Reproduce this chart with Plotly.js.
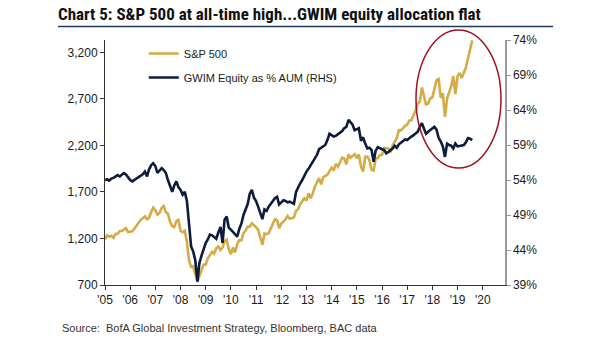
<!DOCTYPE html>
<html><head><meta charset="utf-8">
<script src="https://cdn.plot.ly/plotly-3.0.1.min.js"></script>
<style>html,body{margin:0;padding:0;background:#fff;} #chart{width:605px;height:341px;}</style>
</head><body><div id="chart"></div>
<script>
// Monthly observations, first month June 2005 (as placed on the chart's axis)
const firstYear = 2005, firstMonthIndex = 5;
const spx = [
 1191,1234,1220,1229,1207,1249,1248,
 1280,1281,1295,1311,1270,1270,1277,1304,1336,1378,1401,1418,
 1438,1407,1421,1482,1531,1503,1455,1474,1527,1549,1481,1468,
 1379,1331,1323,1386,1400,1280,1267,1283,1165,969,896,903,
 826,735,798,873,919,919,987,1021,1057,1036,1096,1115,
 1074,1104,1169,1187,1089,1031,1102,1049,1141,1183,1181,1258,
 1286,1327,1326,1364,1345,1321,1292,1219,1131,1253,1247,1258,
 1312,1366,1408,1398,1310,1362,1379,1407,1441,1412,1416,1426,
 1498,1515,1569,1598,1631,1606,1686,1633,1682,1757,1806,1848,
 1783,1859,1872,1884,1924,1960,1931,2003,1972,2018,2068,2059,
 1995,2105,2068,2086,2107,2063,2104,1972,1920,2079,2080,2044,
 1940,1932,2060,2065,2097,2099,2174,2171,2168,2126,2199,2239,
 2279,2364,2363,2384,2412,2423,2470,2472,2519,2575,2648,2674,
 2824,2714,2641,2648,2705,2718,2816,2902,2914,2712,2760,2507,
 2704,2784,2834,2946,2752,2942,2980,2926,2977,3038,3141,3231,
 3330
];
const gwim = [
 54.0,54.1,53.9,54.2,54.3,54.5,54.7,54.5,54.8,55.0,54.8,54.4,
 54.0,53.8,54.0,54.2,54.4,54.6,54.8,55.2,54.5,55.5,56.1,56.4,
 56.0,55.0,55.3,55.7,55.4,55.0,54.0,53.0,52.3,53.2,53.8,53.0,
 52.6,51.9,52.3,51.0,47.5,44.5,43.8,42.5,39.5,42.1,43.2,44.2,
 45.0,45.5,46.2,46.1,45.9,45.6,46.5,47.3,45.0,48.3,48.8,47.2,
 46.9,46.6,46.2,45.9,47.0,47.8,49.0,49.8,50.6,52.0,52.6,51.5,
 51.0,50.2,49.2,48.4,49.8,49.6,50.2,50.6,51.0,51.4,51.6,50.5,
 50.8,51.1,51.0,50.8,50.9,50.7,50.6,52.3,53.0,53.5,54.0,54.7,
 55.2,55.6,56.1,56.6,57.1,57.6,58.4,58.6,58.8,59.0,59.7,60.6,
 60.4,60.2,60.3,60.5,60.7,61.0,61.4,61.6,62.6,62.2,61.9,61.1,
 61.2,61.4,59.6,60.1,59.2,58.5,58.6,58.3,56.6,58.2,58.7,58.5,
 58.4,58.3,57.8,58.0,58.2,58.5,58.9,58.6,59.1,59.3,59.6,59.8,
 59.7,60.0,60.2,60.4,60.6,60.9,61.6,62.1,61.3,60.6,60.9,61.1,
 61.4,61.6,61.2,60.0,59.5,58.8,57.3,59.2,59.0,58.9,58.5,59.2,
 58.8,58.9,59.0,59.0,59.4,60.0,59.9,59.7
];
const yearTickDates = ['2005-06-01','2006-06-01','2007-06-01','2008-06-01','2009-06-01','2010-06-01','2011-06-01','2012-06-01','2013-06-01','2014-06-01','2015-06-01','2016-06-01','2017-06-01','2018-06-01','2019-06-01','2020-06-01'];
const yearLabels = ["'05","'06","'07","'08","'09","'10","'11","'12","'13","'14","'15","'16","'17","'18","'19","'20"];
const leftTicks = [700,1200,1700,2200,2700,3200];
const leftLabels = ['700','1,200','1,700','2,200','2,700','3,200'];
const rightTicks = [39,44,49,54,59,64,69,74];
const rightLabels = ['39%','44%','49%','54%','59%','64%','69%','74%'];
const seriesNames = ['S&P 500','GWIM Equity as % AUM (RHS)'];

const months = spx.map((_, i) => new Date(Date.UTC(firstYear, firstMonthIndex + i, 1)).toISOString().slice(0,10));

const GOLD = '#D4AB45', NAVY = '#0D1B3D';
const tickFont = {family:'"Liberation Sans", Arial, sans-serif', size:12, color:'#1a1a1a'};

const traces = [
 {x: months, y: spx, type:'scatter', mode:'lines', name: seriesNames[0], legendgroup:'a',
  line:{color:GOLD, width:2.6}, yaxis:'y'},
 {x: months, y: gwim, type:'scatter', mode:'lines', name: seriesNames[1], legendgroup:'b',
  line:{color:NAVY, width:2.6}, yaxis:'y2'}
];

const layout = {
 width:605, height:341,
 margin:{l:105, r:100, t:40, b:56},
 paper_bgcolor:'#fff', plot_bgcolor:'#fff',
 showlegend:true,
 legend:{x:0.097, y:1.004, xanchor:'left', yanchor:'top', bgcolor:'rgba(0,0,0,0)',
   font:{family:'"Liberation Sans", Arial, sans-serif', size:11, color:'#1a1a1a'},
   tracegroupgap:5, itemwidth:30},
 title:{text:'<b>Chart 5: S&P 500 at all-time high...GWIM equity allocation flat</b>',
   x:58/605, xref:'container', xanchor:'left', y:1-14/341, yref:'container', yanchor:'middle',
   font:{family:'"Liberation Sans Narrow", "Arial Narrow", "Roboto Condensed", sans-serif', size:17, color:'#111'}},
 xaxis:{type:'date', range:['2005-06-01','2021-04-20'], tickmode:'array', tickvals:yearTickDates, ticktext:yearLabels,
   showgrid:false, zeroline:false, showline:true, linecolor:'#333', linewidth:1,
   ticks:'outside', ticklen:4, tickcolor:'#333', tickfont:tickFont},
 yaxis:{range:[700,3334], tickmode:'array', tickvals:leftTicks, ticktext:leftLabels,
   showgrid:false, zeroline:false, showline:true, linecolor:'#333', linewidth:1,
   ticks:'outside', ticklen:4, tickcolor:'#333', tickfont:tickFont},
 yaxis2:{range:[39,74], overlaying:'y', side:'right', tickmode:'array', tickvals:rightTicks, ticktext:rightLabels,
   showgrid:false, zeroline:false, showline:true, linecolor:'#9a9a9a', linewidth:1.5,
   ticks:'outside', ticklen:4, tickcolor:'#9a9a9a', tickfont:tickFont},
 shapes:[
  {type:'line', xref:'paper', yref:'paper', x0:(58-105)/400, x1:(553-105)/400, y0:(285-26.5)/245, y1:(285-26.5)/245,
   line:{color:'#1F3864', width:1.5}},
  {type:'circle', xref:'paper', yref:'paper', x0:(416-105)/400, x1:(501-105)/400, y0:(285-168)/245, y1:(285-30)/245,
   line:{color:'#A0101E', width:1.5}}
 ],
 annotations:[
  {text:'Source:  BofA Global Investment Strategy, Bloomberg, BAC data', xref:'paper', yref:'paper',
   x:(60-105)/400, y:(285-328)/245, xanchor:'left', yanchor:'middle', showarrow:false,
   font:{family:'"Liberation Sans Narrow", "Arial Narrow", sans-serif', size:11, color:'#333'}}
 ]
};

Plotly.newPlot('chart', traces, layout, {displayModeBar:false, staticPlot:true});
</script></body></html>
